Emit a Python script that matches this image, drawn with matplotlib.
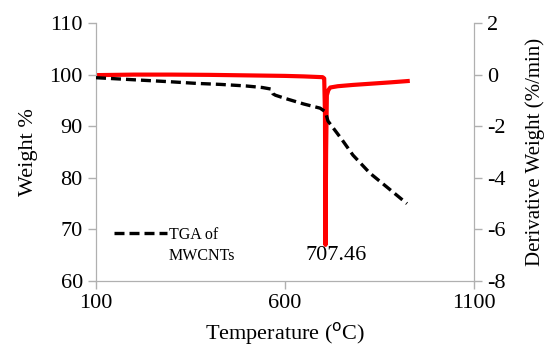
import numpy as np
import matplotlib.pyplot as plt

plt.rcParams['font.family'] = ['Liberation Serif', 'DejaVu Serif']
plt.rcParams['axes.unicode_minus'] = False

# TGA weight curve (left axis)
tga_t = [100, 200, 300, 365, 430, 497, 540, 563, 568, 575, 600, 650, 693, 707, 714, 750, 780, 825, 870, 923]
tga_w = [99.4, 99.0, 98.6, 98.3, 98.1, 97.8, 97.5, 97.2, 96.3, 96.0, 95.4, 94.3, 93.5, 92.8, 91.0, 87.5, 84.4, 80.9, 78.2, 75.0]

# derivative weight curve (right axis)
dtg_t = [100, 200, 300, 400, 500, 600, 650, 700, 704, 706, 707.46, 709, 711, 715, 720, 740, 780, 830, 880, 925]
dtg_d = [-0.02, 0.0, 0.0, -0.01, -0.03, -0.05, -0.07, -0.1, -0.15, -1.5, -6.6, -3.0, -0.8, -0.6, -0.5, -0.45, -0.4, -0.35, -0.3, -0.25]

peak_label = "707.46"

grey = '#b0b0b0'
fig = plt.figure(figsize=(5.44, 3.47), dpi=100)
ax = fig.add_axes([0.1765, 0.1902, 0.6945, 0.7435])
ax2 = ax.twinx()

ax2.plot(dtg_t, dtg_d, color='#ff0000', lw=3, solid_joinstyle='round', zorder=2)
ax.plot(tga_t, tga_w, color='black', lw=2.4, dashes=(3, 1.5), label='TGA of', zorder=3)
ax.set_zorder(ax2.get_zorder() + 1)
ax.patch.set_visible(False)

ax.set_xlim(100, 1100)
ax.set_ylim(60, 110)
ax2.set_ylim(-8, 2)
ax.set_xticks([100, 600, 1100])
ax.set_yticks(range(60, 111, 10))
ax2.set_yticks(range(-8, 3, 2))

for a in (ax, ax2):
    for s in a.spines.values():
        s.set_color(grey)
    a.spines['top'].set_visible(False)
    a.tick_params(colors=grey, labelcolor='black', labelsize=16, length=6, width=1, direction='out')

ax.set_xlabel('Temperature ($^{\\mathrm{o}}$C)', fontsize=16, labelpad=5)
ax.set_ylabel('Weight %', fontsize=16, labelpad=8)
ax2.set_ylabel('Derivative Weight (%/min)', fontsize=15, labelpad=14)

ax2.text(735, -7.0, peak_label, ha='center', va='center', fontsize=16)

leg = ax.legend(loc='center left', bbox_to_anchor=(0.01, 0.178), frameon=False, fontsize=11.5,
                handlelength=3.3, handletextpad=0.15)
ax.text(0.191, 0.097, 'MWCNTs', transform=ax.transAxes, ha='left', va='center', fontsize=11.5)

fig.savefig('out.png', dpi=100)
